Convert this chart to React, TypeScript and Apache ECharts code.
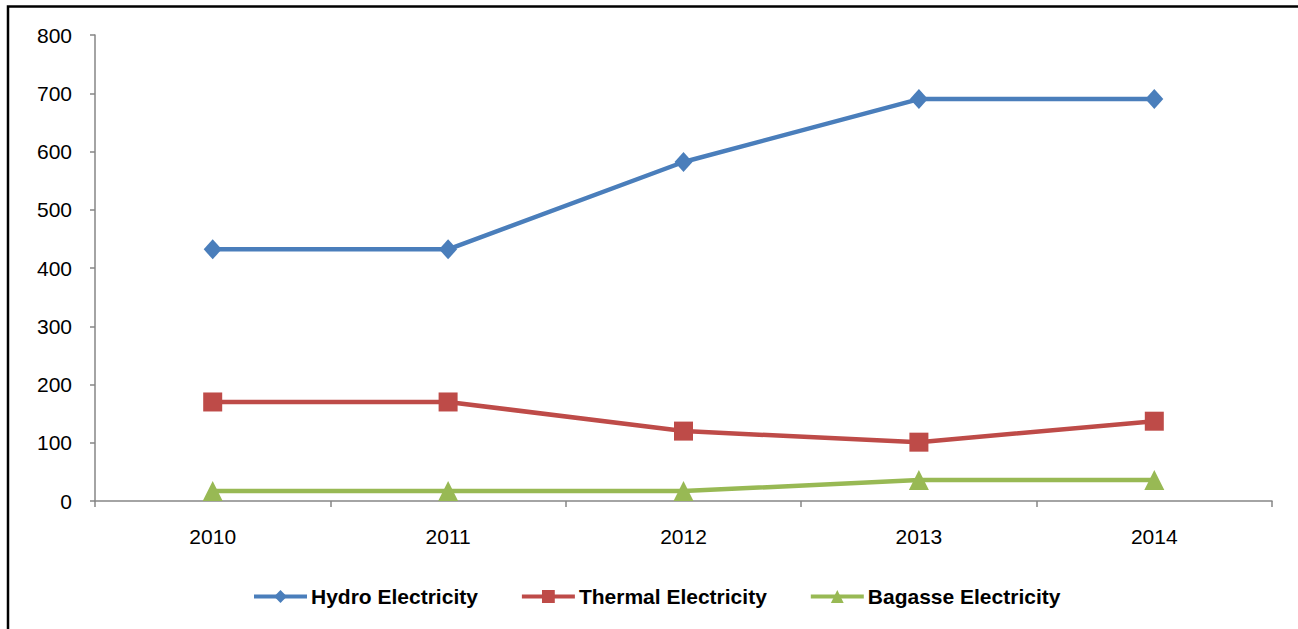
import React, { useEffect, useRef } from "react";
import * as echarts from "echarts";

const years = ["2010", "2011", "2012", "2013", "2014"];
const hydro = [432, 432, 582, 690, 690];
const thermal = [170, 170, 120, 101, 137];
const bagasse = [17, 17, 17, 36, 36];
const yTicks = { min: 0, max: 800, interval: 100 };

const FONT = "'Liberation Sans', Arial, sans-serif";

export default function App() {
  const ref = useRef<HTMLDivElement>(null);
  useEffect(() => {
    document.body.style.margin = "0";
    const chart = echarts.init(ref.current!, null, { renderer: "svg" });
    const axisColor = "#868686";
    chart.setOption({
      animation: false,
      backgroundColor: "#fff",
      textStyle: { fontFamily: FONT },
      grid: { left: 95, right: 26, top: 35, bottom: 128, containLabel: false },
      graphic: [
        {
          type: "rect",
          shape: { x: 8, y: 6.5, width: 1400, height: 700 },
          style: { fill: "none", stroke: "#000", lineWidth: 2.5 },
          silent: true,
        },
      ],
      legend: {
        top: 586,
        left: 252,
        padding: 0,
        itemWidth: 53,
        itemHeight: 16,
        itemGap: 42,
        lineStyle: { width: 4 },
        textStyle: { fontFamily: FONT, fontSize: 21, fontWeight: "bold", color: "#000", padding: [0, 0, 0, -1] },
        data: ["Hydro Electricity", "Thermal Electricity", "Bagasse Electricity"],
      },
      xAxis: {
        type: "category",
        data: years,
        boundaryGap: true,
        axisLine: { lineStyle: { color: axisColor, width: 1.5 } },
        axisTick: { show: true, length: 6, lineStyle: { color: axisColor, width: 1.5 } },
        axisLabel: { color: "#000", fontSize: 21, fontFamily: FONT, margin: 25 },
        splitLine: { show: false },
      },
      yAxis: {
        type: "value",
        min: yTicks.min,
        max: yTicks.max,
        interval: yTicks.interval,
        axisLine: { show: true, lineStyle: { color: axisColor, width: 1.5 } },
        axisTick: { show: true, length: 5, lineStyle: { color: axisColor, width: 1.5 } },
        axisLabel: { color: "#000", fontSize: 21, fontFamily: FONT, margin: 23 },
        splitLine: { show: false },
      },
      series: [
        {
          name: "Hydro Electricity",
          type: "line",
          data: hydro,
          symbol: "diamond",
          symbolSize: [18, 20],
          color: "#4A7EBB",
          lineStyle: { width: 4.5, color: "#4A7EBB" },
          itemStyle: { color: "#4A7EBB" },
        },
        {
          name: "Thermal Electricity",
          type: "line",
          data: thermal,
          symbol: "rect",
          symbolSize: 19,
          color: "#BE4B48",
          lineStyle: { width: 4.5, color: "#BE4B48" },
          itemStyle: { color: "#BE4B48" },
        },
        {
          name: "Bagasse Electricity",
          type: "line",
          data: bagasse,
          symbol: "triangle",
          symbolSize: 20,
          color: "#98B954",
          lineStyle: { width: 4.5, color: "#98B954" },
          itemStyle: { color: "#98B954" },
        },
      ],
    });
    return () => chart.dispose();
  }, []);
  return (
    <div
      ref={ref}
      style={{ position: "absolute", left: 0, top: 0, width: 1298, height: 629 }}
    />
  );
}
